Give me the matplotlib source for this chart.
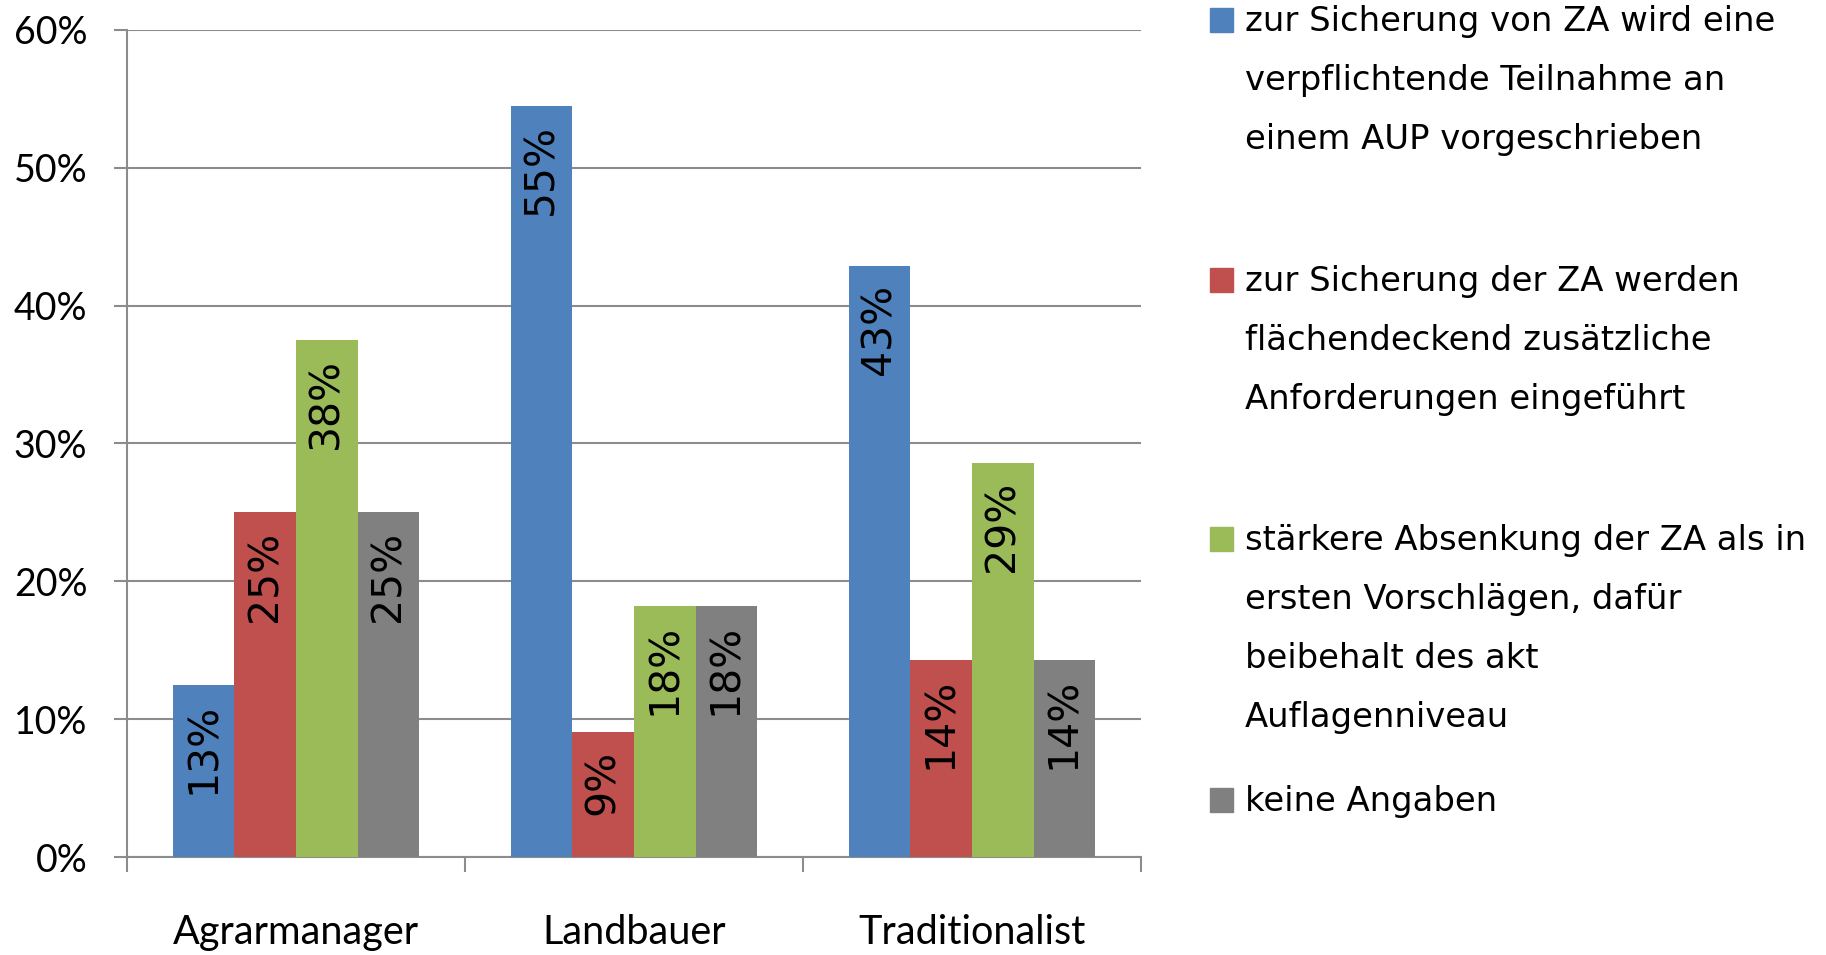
import matplotlib
matplotlib.use('Agg')
import matplotlib.pyplot as plt
import matplotlib.patches as mpatches
import numpy as np

# Daten
kategorien = ['Agrarmanager', 'Landbauer', 'Traditionalist']
serien = [
    'zur Sicherung von ZA wird eine\nverpflichtende Teilnahme an\neinem AUP vorgeschrieben',
    'zur Sicherung der ZA werden\nflächendeckend zusätzliche\nAnforderungen eingeführt',
    'stärkere Absenkung der ZA als in\nersten Vorschlägen, dafür\nbeibehalt des akt\nAuflagenniveau',
    'keine Angaben',
]
teilnahme_aup = [12.5, 54.5, 42.9]
zusaetzliche_anf = [25.0, 9.1, 14.3]
staerkere_absenkung = [37.5, 18.2, 28.6]
keine_angaben = [25.0, 18.2, 14.3]
werte = [teilnahme_aup, zusaetzliche_anf, staerkere_absenkung, keine_angaben]
farben = ['#4F81BD', '#C0504D', '#9BBB59', '#808080']

plt.rcParams['font.family'] = ['Lato', 'DejaVu Sans']

W, H = 1826, 955
fig = plt.figure(figsize=(W / 100, H / 100), dpi=100)
ax = fig.add_axes([127 / W, 1 - 857 / H, (1141 - 127) / W, (857 - 30) / H])

grau = '#8c8c8c'
x = np.arange(len(kategorien))
breite = 0.182

for i, (vals, farbe) in enumerate(zip(werte, farben)):
    pos = x + (i - 1.5) * breite
    bars = ax.bar(pos, vals, width=breite, color=farbe, zorder=3)
    for b, v in zip(bars, vals):
        ax.annotate('%d%%' % int(v + 0.5),
                    (b.get_x() + b.get_width() / 2, b.get_height()),
                    xytext=(0, -13), textcoords='offset points',
                    rotation=90, ha='center', va='top',
                    fontsize=29.5, family='DejaVu Sans', color='black', zorder=4)

ax.set_xlim(-0.5, 2.5)
ax.set_ylim(0, 60)
ax.set_yticks(range(0, 61, 10))
ax.set_yticklabels(['%d%%' % t for t in range(0, 61, 10)])
ax.yaxis.grid(True, color=grau, linewidth=1.5, zorder=0)
ax.set_axisbelow(True)

# Kategorien-Ticks an den Grenzen, Beschriftung in der Mitte
ax.set_xticks([-0.5, 0.5, 1.5, 2.5])
ax.set_xticklabels([])
ax.set_xticks(x, minor=True)
ax.set_xticklabels(kategorien, minor=True)
ax.tick_params(axis='x', which='major', length=11, width=1.5, color=grau, direction='out')
ax.tick_params(axis='x', which='minor', length=0, pad=41, labelsize=28.5)
ax.tick_params(axis='y', length=9.5, width=1.5, color=grau, pad=19, labelsize=27)

for s in ['top', 'right']:
    ax.spines[s].set_visible(False)
for s in ['left', 'bottom']:
    ax.spines[s].set_color(grau)
    ax.spines[s].set_linewidth(1.5)

# Legende
grundlinien = [30, 290, 549, 810]
for label, farbe, y in zip(serien, farben, grundlinien):
    fig.patches.append(mpatches.Rectangle((1210 / W, 1 - (y + 2) / H), 23 / W, 24 / H,
                                          transform=fig.transFigure, color=farbe))
    fig.text(1245 / W, 1 - (y - 25) / H, label, va='top', ha='left',
             fontsize=24.4, family='DejaVu Sans', linespacing=2.0)

fig.savefig('out.png', dpi=100)
